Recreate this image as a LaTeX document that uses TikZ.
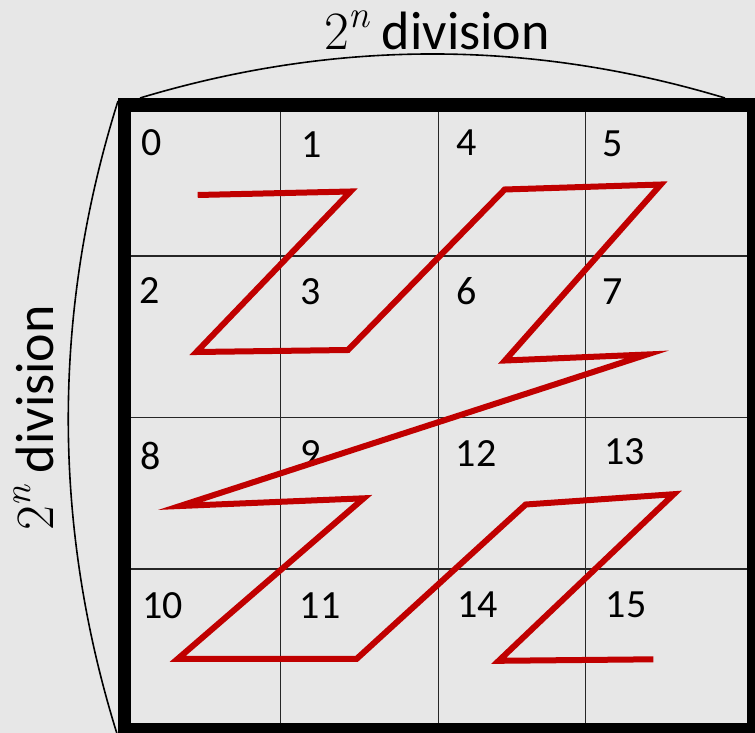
\documentclass[tikz,border=0pt]{standalone}
\usepackage{fontspec}
\setmainfont{Carlito}
\newfontfamily\lmr{Latin Modern Roman}
\newcommand{\twopow}{{\lmr 2\raisebox{0.42em}{\fontsize{38}{38}\selectfont\itshape n}}}
\definecolor{bg}{RGB}{231,231,231}
\definecolor{zred}{RGB}{192,0,0}
\begin{document}
\begin{tikzpicture}[x=1pt,y=-1pt,
  cellnum/.style={font=\fontsize{40}{40}\selectfont, inner sep=0pt, anchor=center},
  gridline/.style={line width=1.2pt, draw=black!85},
  zpath/.style={draw=zred, line width=6pt, line join=miter, miter limit=12},
  arcline/.style={line width=1.6pt},
  dimlabel/.style={font=\fontsize{54}{54}\selectfont, inner sep=0pt, anchor=base}]
\useasboundingbox (0,0) rectangle (755,733);
\fill[bg] (0,0) rectangle (755,733);
% grid
\draw[gridline] (280.3,110) -- (280.3,725);
\draw[gridline] (438.7,110) -- (438.7,725);
\draw[gridline] (585.3,110) -- (585.3,725);
\draw[gridline] (130,256) -- (748,256);
\draw[gridline] (130,417.3) -- (748,417.3);
\draw[gridline] (130,569) -- (748,569);
% cell numbers
\node[cellnum] (n0) at (151.7,142.5) {0};
\node[cellnum] (n1) at (311.7,144.5) {1};
\node[cellnum] (n4) at (467,143) {4};
\node[cellnum] (n5) at (613,144) {5};
\node[cellnum] (n2) at (150,291) {2};
\node[cellnum] (n3) at (310.5,291.5) {3};
\node[cellnum] (n6) at (466.5,291.5) {6};
\node[cellnum] (n7) at (613,291.5) {7};
\node[cellnum] (n8) at (151,455.5) {8};
\node[cellnum] (n9) at (310.5,454) {9};
\node[cellnum] (n12) at (476,453.7) {12};
\node[cellnum] (n13) at (624.5,451.5) {13};
\node[cellnum] (n10) at (162.5,606) {10};
\node[cellnum] (n11) at (320,605.5) {11};
\node[cellnum] (n14) at (477.5,604.7) {14};
\node[cellnum] (n15) at (626,604.7) {15};
% Z-order curve
\coordinate (p0) at (197.7,195);
\coordinate (p1) at (350.5,191.5);
\coordinate (p2) at (196.5,352);
\coordinate (p3) at (348,350);
\coordinate (p4) at (504.7,189.5);
\coordinate (p5) at (660.8,184.5);
\coordinate (p6) at (505,360.5);
\coordinate (p7) at (647,354.5);
\coordinate (p8) at (180,506);
\coordinate (p9) at (363.7,498.3);
\coordinate (p10) at (177.8,658.8);
\coordinate (p11) at (356.7,658.8);
\coordinate (p12) at (525.7,504.5);
\coordinate (p13) at (673.8,494.2);
\coordinate (p14) at (498.7,660.8);
\coordinate (p15) at (653.3,659.3);
\draw[zpath] (p0) -- (p1) -- (p2) -- (p3) -- (p4) -- (p5) -- (p6) -- (p7)
  -- (p8) -- (p9) -- (p10) -- (p11) -- (p12) -- (p13) -- (p14) -- (p15);
% dimension arcs
\coordinate (ta) at (140,98);
\coordinate (tb) at (725,98);
\coordinate (la) at (118,101);
\coordinate (lb) at (118,737);
\draw[arcline] (ta) .. controls (335,39.3) and (530,39.3) .. (tb);
\draw[arcline] (la) .. controls (51.7,311.7) and (51.7,526.3) .. (lb);
% outer border
\draw[line width=13.4pt] (124.4,105) rectangle (753.4,730);
% labels
\node[dimlabel] (top) at (437,50) {\twopow{} division};
\node[dimlabel, rotate=90] (left) at (53,418) {\twopow{} division};
\end{tikzpicture}
\end{document}
